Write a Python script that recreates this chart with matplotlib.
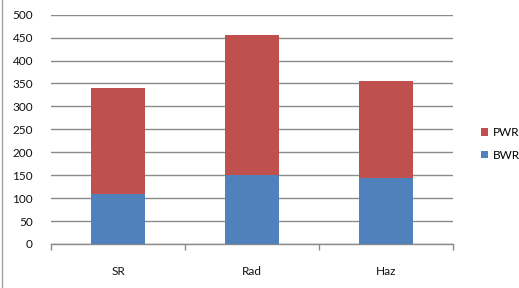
import matplotlib
matplotlib.use("Agg")
import matplotlib.pyplot as plt
from matplotlib.lines import Line2D
import numpy as np

categories = ["SR", "Rad", "Haz"]
bwr = [110, 150, 145]
pwr = [230, 305, 210]
yticks = [0, 50, 100, 150, 200, 250, 300, 350, 400, 450, 500]

W, H = 519, 288
fig = plt.figure(figsize=(W / 100, H / 100), dpi=100)
plt.rcParams['font.family'] = ['Lato', 'DejaVu Sans']

left, right, top, bottom = 51, 453, 14.7, 244
ax = fig.add_axes([left / W, 1 - bottom / H, (right - left) / W, (bottom - top) / H])

x = np.arange(len(categories))
bw = 0.4
ax.bar(x, bwr, width=bw, color="#4F81BD", label="BWR", zorder=3)
ax.bar(x, pwr, width=bw, bottom=bwr, color="#C0504D", label="PWR", zorder=3)

fs = 8.5
ax.set_xlim(-0.5, len(categories) - 0.5)
ax.set_ylim(0, 500)
ax.set_yticks(yticks)
ax.set_yticklabels([str(v) for v in yticks], fontsize=fs, color="#111111")
ax.yaxis.grid(True, color="#8a8a8a", linewidth=1.0, zorder=0)
ax.tick_params(axis="y", length=0, pad=13)

# x ticks at category boundaries, labels at centers
ax.set_xticks(np.arange(-0.5, len(categories), 1.0))
ax.set_xticklabels([])
ax.set_xticks(x, minor=True)
ax.set_xticklabels(categories, minor=True, fontsize=fs, color="#111111")
ax.tick_params(axis="x", which="major", length=4, color="#8a8a8a", width=1.0)
ax.tick_params(axis="x", which="minor", length=0, pad=16)

for s in ["top", "right", "left"]:
    ax.spines[s].set_visible(False)
ax.spines["bottom"].set_color("#8a8a8a")
ax.spines["bottom"].set_linewidth(1.0)

handles, labels = ax.get_legend_handles_labels()
leg = fig.legend(handles[::-1], labels[::-1], loc="center left",
                 bbox_to_anchor=(470 / W, 1 - 144 / H), frameon=False,
                 fontsize=fs, handlelength=0.6, handleheight=0.6,
                 handletextpad=0.4, labelspacing=1.0)

fig.add_artist(Line2D([2 / W, 2 / W], [0, 1], color="#a0a0a0", linewidth=1.0))

fig.savefig("out.png", dpi=100)
